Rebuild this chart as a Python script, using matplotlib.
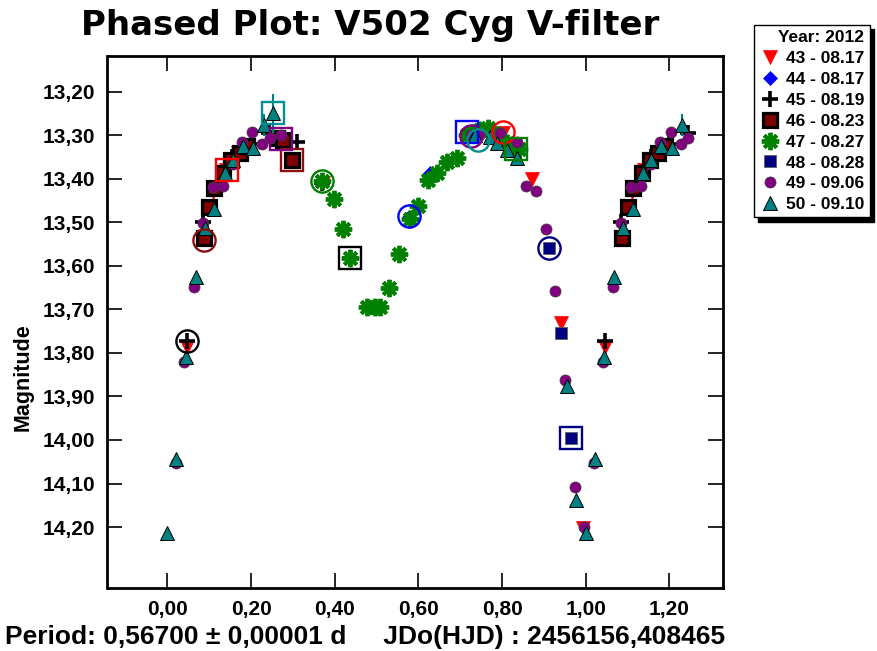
import matplotlib
matplotlib.use("Agg")
import matplotlib.pyplot as plt
from matplotlib.ticker import FuncFormatter, FixedLocator
import numpy as np

plt.rcParams['font.family'] = ['Liberation Sans', 'DejaVu Sans']
plt.rcParams['font.weight'] = 'bold'

# ---- data (phase, magnitude) ----
labels = ["43 - 08.17", "44 - 08.17", "45 - 08.19", "46 - 08.23",
          "47 - 08.27", "48 - 08.28", "49 - 09.06", "50 - 09.10"]

phase_43 = [0.046, 0.110, 0.140, 0.170, 0.275, 0.298, 0.371, 0.803, 0.872, 0.940, 0.993]
mag_43 = [13.787, 13.43, 13.38, 13.34, 13.31, 13.36, 13.41, 13.295, 13.401, 13.732, 14.203]

phase_44 = [0.578, 0.628, 0.715]
mag_44 = [13.487, 13.386, 13.293]

phase_45 = [0.046, 0.085, 0.155, 0.200, 0.244, 0.309, 0.369, 0.437]
mag_45 = [13.772, 13.500, 13.350, 13.320, 13.295, 13.315, 13.410, 13.583]

phase_46 = [0.087, 0.100, 0.112, 0.134, 0.153, 0.173, 0.190, 0.262, 0.277, 0.297]
mag_46 = [13.537, 13.464, 13.422, 13.387, 13.357, 13.340, 13.325, 13.307, 13.312, 13.357]

phase_47 = [0.369, 0.399, 0.419, 0.437, 0.476, 0.496, 0.508, 0.530, 0.554, 0.580,
            0.600, 0.624, 0.644, 0.668, 0.692, 0.715, 0.728, 0.747, 0.766, 0.790,
            0.812, 0.826, 0.840]
mag_47 = [13.405, 13.447, 13.516, 13.583, 13.694, 13.694, 13.694, 13.650, 13.573, 13.492,
          13.463, 13.403, 13.386, 13.361, 13.353, 13.300, 13.295, 13.288, 13.283, 13.300,
          13.318, 13.325, 13.332]

phase_48 = [0.912, 0.941, 0.964]
mag_48 = [13.558, 13.755, 13.996]

phase_49 = [0.020, 0.041, 0.0645, 0.085, 0.109, 0.133, 0.157, 0.178, 0.203, 0.227,
            0.245, 0.272, 0.725, 0.745, 0.795, 0.836, 0.857, 0.881, 0.905, 0.926,
            0.950, 0.974, 0.995]
mag_49 = [14.053, 13.820, 13.648, 13.502, 13.420, 13.417, 13.365, 13.315, 13.293, 13.320,
          13.306, 13.300, 13.300, 13.300, 13.296, 13.315, 13.417, 13.428, 13.516, 13.658,
          13.862, 14.109, 14.200]

phase_50 = [0.000, 0.021, 0.044, 0.068, 0.090, 0.112, 0.138, 0.157, 0.181, 0.205,
            0.231, 0.252, 0.735, 0.771, 0.787, 0.811, 0.835, 0.954, 0.976]
mag_50 = [14.214, 14.044, 13.809, 13.626, 13.514, 13.470, 13.387, 13.357, 13.325, 13.330,
          13.276, 13.250, 13.300, 13.303, 13.318, 13.334, 13.353, 13.876, 14.138]
err_50 = [0.0, 0.0, 0.0, 0.0, 0.0, 0.0, 0.0, 0.0, 0.012, 0.012,
          0.025, 0.045, 0.0, 0.012, 0.012, 0.0, 0.0, 0.0, 0.0]

# highlighted points (open circle / open square) per series
hl_circle_phase = [0.803, 0.578, 0.046, 0.087, 0.369, 0.912, 0.725, 0.743]
hl_circle_mag = [13.292, 13.485, 13.772, 13.540, 13.405, 13.558, 13.302, 13.311]
hl_square_phase = [0.142, 0.715, 0.437, 0.297, 0.833, 0.964, 0.272, 0.252]
hl_square_mag = [13.380, 13.293, 13.583, 13.357, 13.332, 13.996, 13.309, 13.250]

x_ticks = [0.0, 0.2, 0.4, 0.6, 0.8, 1.0, 1.2]
y_ticks = [13.2, 13.3, 13.4, 13.5, 13.6, 13.7, 13.8, 13.9, 14.0, 14.1, 14.2]

colors = ["#FF0000", "#0000FF", "#000000", "#800000", "#008000", "#000080", "#800080", "#008080"]
hl_colors = ["#FF0000", "#0000FF", "#000000", "#8B1010", "#008000", "#000080", "#800080", "#009090"]

title_text = "Phased Plot: V502 Cyg V-filter"
period_text = "Period: 0,56700 \u00b1 0,00001 d     JDo(HJD) : 2456156,408465"

W, H = 878, 651
fig = plt.figure(figsize=(W / 100, H / 100), dpi=100)
ax = fig.add_axes([107.5 / W, 1 - 588 / H, (723 - 107.5) / W, (588 - 56) / H])

def extend(ph, mg, err=None, cut=0.25):
    ph = list(ph); mg = list(mg)
    ex_p = [p + 1 for p in ph if p < cut]
    ex_m = [m for p, m in zip(ph, mg) if p < cut]
    if err is not None:
        ex_e = [e for p, e in zip(ph, err) if p < cut]
        return ph + ex_p, mg + ex_m, list(err) + ex_e
    return ph + ex_p, mg + ex_m

styles = [
    dict(marker='v', ms=10, mfc=colors[0], mec=colors[0], mew=0.5),
    dict(marker='D', ms=7, mfc=colors[1], mec=colors[1], mew=0.5),
    dict(marker='+', ms=12, mfc=colors[2], mec=colors[2], mew=2.6),
    dict(marker='s', ms=10, mfc=colors[3], mec='black', mew=2.3),
    dict(marker=(8, 2, 0), ms=12.5, mfc=colors[4], mec=colors[4], mew=2.8),
    dict(marker='s', ms=9, mfc=colors[5], mec='#606060', mew=0.6),
    dict(marker='o', ms=8, mfc=colors[6], mec='#404040', mew=0.5),
    dict(marker='^', ms=10, mfc=colors[7], mec='black', mew=0.7),
]

series = [(phase_43, mag_43), (phase_44, mag_44), (phase_45, mag_45), (phase_46, mag_46),
          (phase_47, mag_47), (phase_48, mag_48), (phase_49, mag_49)]

handles = []
for i, (ph, mg) in enumerate(series):
    p2, m2 = extend(ph, mg)
    h, = ax.plot(p2, m2, ls='none', label=labels[i], zorder=3 + i, **styles[i])
    handles.append(h)

p50, m50, e50 = extend(phase_50, mag_50, err_50, cut=0.245)
ax.errorbar(p50, m50, yerr=e50, fmt='none', ecolor=colors[7], elinewidth=1.5, zorder=10)
h, = ax.plot(p50, m50, ls='none', label=labels[7], zorder=11, **styles[7])
handles.append(h)

for i in range(8):
    ax.plot(hl_circle_phase[i], hl_circle_mag[i], ls='none', marker='o', ms=16,
            mfc='none', mec=hl_colors[i], mew=1.7, zorder=12)
    ax.plot(hl_square_phase[i], hl_square_mag[i], ls='none', marker='s', ms=15.5,
            mfc='none', mec=hl_colors[i], mew=1.7, zorder=12)

ax.set_xlim(-0.143, 1.328)
ax.set_ylim(14.34, 13.118)
ax.xaxis.set_major_locator(FixedLocator(x_ticks))
ax.yaxis.set_major_locator(FixedLocator(y_ticks))
fmt = FuncFormatter(lambda v, pos: f"{v:.2f}".replace('.', ','))
ax.xaxis.set_major_formatter(fmt)
ax.yaxis.set_major_formatter(fmt)
ax.tick_params(axis='both', which='major', direction='in', length=11, width=1.2,
               top=True, right=True, labelsize=15, pad=9)
for lab in ax.get_xticklabels() + ax.get_yticklabels():
    lab.set_fontweight('bold')
for s in ax.spines.values():
    s.set_linewidth(2)

fig.text(23 / W, 1 - 377 / H, "Magnitude", fontsize=15.5, fontweight='bold',
         rotation=90, ha='center', va='center')

fig.text(370 / W, 1 - 26 / H, title_text, fontsize=24.5,
         fontweight='bold', ha='center', va='center', family=['DejaVu Sans'])
fig.text(5 / W, 1 - 637 / H, period_text, fontsize=19, fontweight='bold',
         ha='left', va='center')

leg = fig.legend(handles=handles, labels=labels, loc='upper left',
                 bbox_to_anchor=(754 / W, 1 - 25 / H), title="Year: 2012",
                 fontsize=12.5, title_fontsize=12.5, frameon=True, fancybox=False,
                 edgecolor='black', framealpha=1, borderpad=0.3, labelspacing=0.33,
                 handletextpad=0.35, handlelength=1.2, borderaxespad=0,
                 shadow={'color': 'black', 'alpha': 1, 'ox': 3, 'oy': -3},
                 alignment='right')
leg.get_frame().set_linewidth(1.0)

fig.savefig("out.png", dpi=100)
